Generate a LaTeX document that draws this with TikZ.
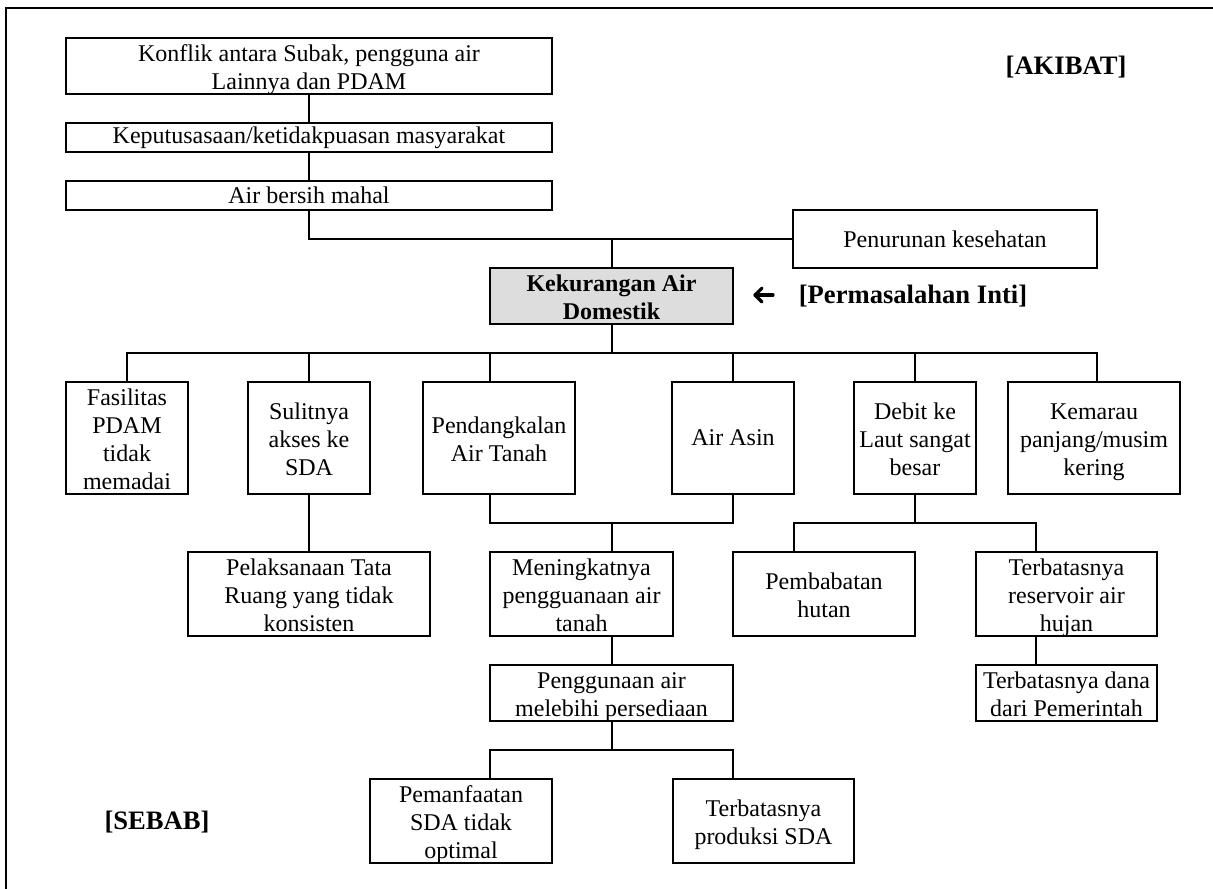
\documentclass[tikz,border=0pt]{standalone}
\usepackage{fontspec}
\setmainfont{Liberation Serif}
\definecolor{corefill}{RGB}{221,221,221}
% struts for the first and last line of stacked box texts
\newcommand\hstrut{\rule{0pt}{11.6pt}}
\newcommand\dstrut{\rule[-2.2pt]{0pt}{2.2pt}}
\begin{document}
\begin{tikzpicture}[x=0.5pt,y=-0.5pt,
  box/.style={draw, line width=1.1pt, rectangle, inner sep=0pt, align=center,
              font=\fontsize{12}{14}\selectfont},
  core/.style={box, fill=corefill, font=\bfseries\fontsize{12}{14}\selectfont},
  link/.style={line width=0.85pt},
  tag/.style={inner sep=0pt, font=\bfseries\fontsize{13.3}{16}\selectfont},
  frame/.style={line width=1.3pt},
  pointer/.style={line width=1.6pt, line cap=round, line join=round}]

\useasboundingbox (0,0) rectangle (1213,888);
\clip (0,0) rectangle (1213,888);
\draw[frame] (6,8) rectangle (1240,910);

% ---- effects (top) ----
\node[box, minimum width=243pt, minimum height=28pt] (konflik) at (309,66)
  {\hstrut Konflik antara Subak, pengguna air\\Lainnya dan PDAM\dstrut};
\node[box, minimum width=243pt, minimum height=14.5pt] (putus) at (309,137.5)
  {Keputusasaan/ketidakpuasan masyarakat};
\node[box, minimum width=243pt, minimum height=14.5pt] (mahal) at (309,195.5)
  {Air bersih mahal};
\node[box, minimum width=152pt, minimum height=29pt] (sehat) at (945,239)
  {Penurunan kesehatan};

% ---- core problem ----
\node[core, minimum width=121.5pt, minimum height=28pt] (inti) at (611.5,296)
  {\hstrut Kekurangan Air\\Domestik\dstrut};

% ---- first row of causes ----
\node[box, minimum width=61pt, minimum height=56pt] (fasil) at (127,438)
  {\hstrut Fasilitas\\PDAM\\tidak\\memadai\dstrut};
\node[box, minimum width=61pt, minimum height=56pt] (sulit) at (309,438)
  {\hstrut Sulitnya\\akses ke\\SDA\dstrut};
\node[box, minimum width=76pt, minimum height=56pt] (dangkal) at (499,438)
  {\hstrut Pendangkalan\\Air Tanah\dstrut};
\node[box, minimum width=61pt, minimum height=56pt] (asin) at (733,438)
  {Air Asin};
\node[box, minimum width=61pt, minimum height=56pt] (debit) at (915,438)
  {\hstrut Debit ke\\Laut sangat\\besar\dstrut};
\node[box, minimum width=86pt, minimum height=56pt] (kemarau) at (1094,438)
  {\hstrut Kemarau\\panjang/musim\\kering\dstrut};

% ---- second row ----
\node[box, minimum width=121pt, minimum height=42pt] (tata) at (309,594)
  {\hstrut Pelaksanaan Tata\\Ruang yang tidak\\konsisten\dstrut};
\node[box, minimum width=91.5pt, minimum height=42pt] (naik) at (581.5,594)
  {\hstrut Meningkatnya\\pengguanaan air\\tanah\dstrut};
\node[box, minimum width=91pt, minimum height=42pt] (babat) at (824,594)
  {\hstrut Pembabatan\\hutan\dstrut};
\node[box, minimum width=90.5pt, minimum height=42pt] (reserv) at (1066.5,594)
  {\hstrut Terbatasnya\\reservoir air\\hujan\dstrut};

% ---- third row ----
\node[box, minimum width=121.5pt, minimum height=28pt] (guna) at (611.5,693)
  {\hstrut Penggunaan air\\melebihi persediaan\dstrut};
\node[box, minimum width=90.5pt, minimum height=28pt] (dana) at (1066.5,693)
  {\hstrut Terbatasnya dana\\dari Pemerintah\dstrut};

% ---- fourth row ----
\node[box, minimum width=91pt, minimum height=42pt] (manfaat) at (461,821)
  {\hstrut Pemanfaatan\\SDA tidak\\optimal\dstrut};
\node[box, minimum width=90.5pt, minimum height=42pt] (produksi) at (763.5,821)
  {\hstrut Terbatasnya\\produksi SDA\dstrut};

% ---- side labels ----
\node[tag] (akibat) at (1066,67) {[AKIBAT]};
\node[tag] (pokok) at (913,296) {[Permasalahan Inti]};
\node[tag] (sebab) at (157,822) {[SEBAB]};

% pointer arrow towards the core problem
\draw[pointer] (773,295) -- (755,295);
\draw[pointer] (762,288) -- (755,295) -- (762,302);

% ---- junction columns ----
\coordinate (c490) at (490,0);
\coordinate (c612) at (612,0);
\coordinate (c794) at (794,0);
\coordinate (c1036) at (1036,0);
\coordinate (c1097) at (1097,0);
\coordinate (c733) at (733,0);

% ---- connectors: effects ----
\draw[link] (konflik) -- (putus);
\draw[link] (putus) -- (mahal);
\draw[link] (mahal.south) |- (sehat.west);
\draw[link] (inti.north -| c612) -- (c612 |- sehat.west);

% ---- connectors: core to first row ----
\coordinate (bus) at (612,353);
\draw[link] (inti.south -| c612) -- (bus);
\draw[link] (fasil.north) |- (bus) -| (kemarau.north -| c1097);
\draw[link] (sulit.north) -- (sulit.north |- bus);
\draw[link] (dangkal.north -| c490) -- (c490 |- bus);
\draw[link] (asin.north) -- (asin.north |- bus);
\draw[link] (debit.north) -- (debit.north |- bus);

% ---- connectors: lower levels ----
\draw[link] (sulit) -- (tata);
\coordinate (join1) at (612,523);
\draw[link] (dangkal.south -| c490) |- (join1) -| (asin.south);
\draw[link] (join1) -- (naik.north -| c612);
\coordinate (join2) at (915,523);
\draw[link] (debit.south) -- (join2);
\draw[link] (babat.north -| c794) |- (join2) -| (reserv.north -| c1036);
\draw[link] (naik.south -| c612) -- (guna.north -| c612);
\draw[link] (reserv.south -| c1036) -- (dana.north -| c1036);
\coordinate (join3) at (612,750);
\draw[link] (guna.south -| c612) -- (join3);
\draw[link] (manfaat.north -| c490) |- (join3) -| (produksi.north -| c733);
\end{tikzpicture}
\end{document}
